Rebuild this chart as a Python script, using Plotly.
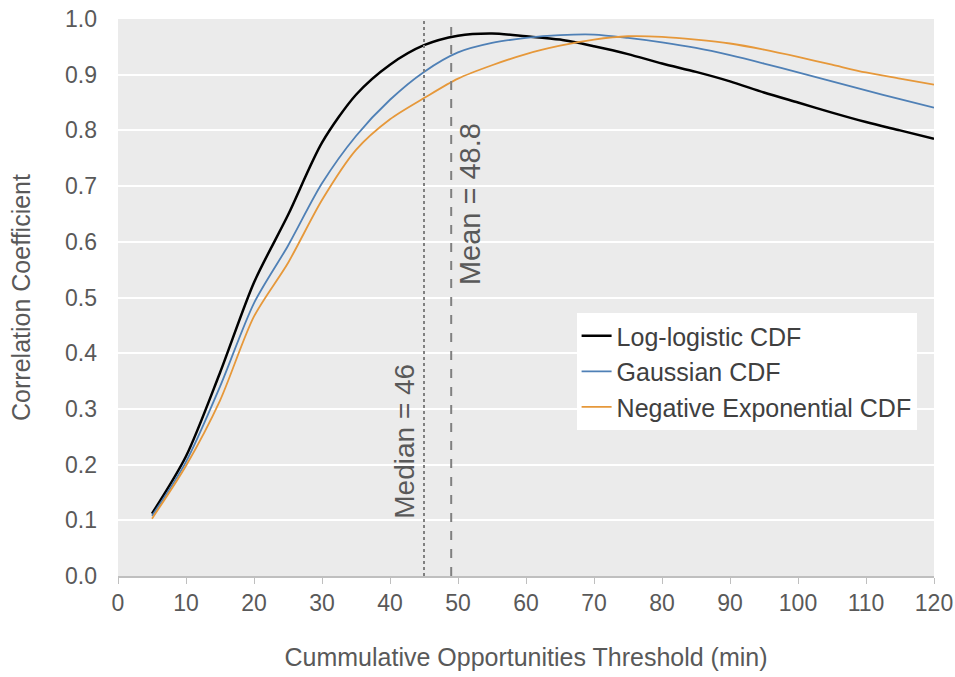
import plotly.graph_objects as go

thresholds = [5, 10, 15, 20, 25, 30, 35, 40, 45, 50, 55, 60, 65, 70, 75, 80,
              85, 90, 95, 100, 105, 110, 115, 120]
log_logistic = [0.112, 0.215, 0.365, 0.527, 0.648, 0.778, 0.864, 0.918, 0.953,
                0.970, 0.974, 0.969, 0.963, 0.951, 0.937, 0.920, 0.905, 0.888,
                0.868, 0.850, 0.832, 0.815, 0.800, 0.785]
gaussian = [0.108, 0.205, 0.340, 0.490, 0.593, 0.705, 0.790, 0.855, 0.905,
            0.940, 0.957, 0.966, 0.971, 0.972, 0.966, 0.958, 0.948, 0.935,
            0.920, 0.904, 0.888, 0.872, 0.856, 0.841]
neg_exp = [0.103, 0.198, 0.315, 0.466, 0.562, 0.675, 0.765, 0.820, 0.858,
           0.893, 0.917, 0.937, 0.952, 0.963, 0.969, 0.968, 0.963, 0.956,
           0.945, 0.932, 0.918, 0.904, 0.893, 0.882]
series_names = ["Log-logistic CDF", "Gaussian CDF", "Negative Exponential CDF"]
median_pos, median_label = 45, "Median = 46"
mean_pos, mean_label = 49, "Mean = 48.8"
x_ticks = list(range(0, 121, 10))
y_ticks = [round(i * 0.1, 1) for i in range(11)]

FONT = "Liberation Sans, Arial, sans-serif"
fig = go.Figure()
for name, vals, color, w in zip(series_names, [log_logistic, gaussian, neg_exp],
                                ["#000000", "#4f80b6", "#e6983a"], [2.5, 1.8, 1.8]):
    fig.add_trace(go.Scatter(x=thresholds, y=vals, mode="lines", name=name,
                             line=dict(color=color, width=w, shape="spline", smoothing=0.8)))

fig.add_trace(go.Scatter(x=[median_pos, median_pos], y=[0, 1], mode="lines", showlegend=False,
                         line=dict(color="#808080", width=2, dash="dot")))
fig.add_trace(go.Scatter(x=[mean_pos, mean_pos], y=[0, 1], mode="lines", showlegend=False,
                         line=dict(color="#808080", width=2, dash="dash")))

fig.add_annotation(x=median_pos, y=0.242, xref="x", yref="y", text=median_label, textangle=-90,
                   showarrow=False, xanchor="right", xshift=-2,
                   font=dict(family=FONT, size=28, color="#595959"))
fig.add_annotation(x=mean_pos, y=0.668, xref="x", yref="y", text=mean_label, textangle=-90,
                   showarrow=False, xanchor="left", xshift=1,
                   font=dict(family=FONT, size=29, color="#595959"))

fig.update_layout(
    width=955, height=677,
    margin=dict(l=118, r=21, t=19, b=101, autoexpand=False),
    paper_bgcolor="white", plot_bgcolor="#ebebeb",
    font=dict(family=FONT, size=23, color="#595959"),
    legend=dict(x=0.562, y=0.472, xanchor="left", yanchor="top",
                bgcolor="white", font=dict(size=25, color="#404040"),
                tracegroupgap=0),
    xaxis=dict(range=[0, 120], tickvals=x_ticks, showgrid=False, zeroline=False,
               automargin=False, ticklabeloverflow="allow",
               showline=True, linecolor="#bfbfbf", linewidth=1.5, ticks="outside",
               tickcolor="#bfbfbf", ticklen=6, ticklabelstandoff=0,
               title=dict(text="Cummulative Opportunities Threshold (min)",
                          font=dict(size=25, color="#595959"), standoff=33)),
    yaxis=dict(range=[0, 1.0], tickvals=y_ticks, tickformat=".1f", showgrid=True,
               automargin=False, ticklabelstandoff=20, ticklabeloverflow="allow",
               gridcolor="white", gridwidth=1.5, zeroline=False,
               title=dict(text="Correlation Coefficient",
                          font=dict(size=25, color="#595959"), standoff=27)),
)

fig.write_html("out.html", config={"displayModeBar": False},
               post_script="document.body.style.margin='0';document.body.style.overflow='hidden';")
